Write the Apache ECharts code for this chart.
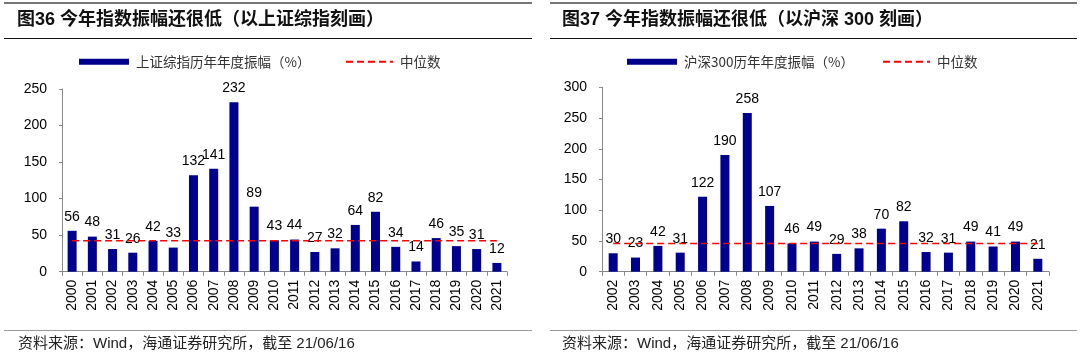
<!DOCTYPE html>
<html>
<head>
<meta charset="utf-8">
<script src="https://cdn.jsdelivr.net/npm/echarts@6/dist/echarts.min.js"></script>
<style>
html,body{margin:0;padding:0;background:#fff;}
#main{width:1080px;height:361px;}
</style>
</head>
<body>
<div id="main"></div>
<script>
// ---- data ----
var yearsSH = ['2000','2001','2002','2003','2004','2005','2006','2007','2008','2009','2010','2011','2012','2013','2014','2015','2016','2017','2018','2019','2020','2021'];
var ampSH = [56,48,31,26,42,33,132,141,232,89,43,44,27,32,64,82,34,14,46,35,31,12];
var medianSH = 42.5;

var yearsHS = ['2002','2003','2004','2005','2006','2007','2008','2009','2010','2011','2012','2013','2014','2015','2016','2017','2018','2019','2020','2021'];
var ampHS = [30,23,42,31,122,190,258,107,46,49,29,38,70,82,32,31,49,41,49,21];
var medianHS = 46;

var ticksSH = {min:0, max:250, interval:50};
var ticksHS = {min:0, max:300, interval:50};

var nameBarSH = '上证综指历年年度振幅（%）';
var nameBarHS = '沪深300历年年度振幅（%）';
var nameMed = '中位数';
var titleSH = '图36 今年指数振幅还很低（以上证综指刻画）';
var titleHS = '图37 今年指数振幅还很低（以沪深 300 刻画）';
var source = '资料来源：Wind，海通证券研究所，截至 21/06/16';

// ---- chart ----
var FONT = '"Liberation Sans", Arial, "Noto Sans CJK SC", sans-serif';
var BAR = '#00008f';
var chart = echarts.init(document.getElementById('main'), null, {renderer:'canvas'});

function xAx(idx, cats){
  return {
    type:'category', gridIndex:idx, data:cats,
    axisLine:{lineStyle:{color:'#888', width:1}},
    axisTick:{show:true, length:4, lineStyle:{color:'#888'}},
    axisLabel:{rotate:90, margin:8, fontSize:14, color:'#000', fontFamily:FONT, interval:0}
  };
}
function yAx(idx, t){
  return {
    type:'value', gridIndex:idx, min:t.min, max:t.max, interval:t.interval,
    axisLine:{show:true, lineStyle:{color:'#888', width:1}},
    axisTick:{show:true, length:3, lineStyle:{color:'#888'}},
    splitLine:{show:false},
    axisLabel:{margin:15, fontSize:14, color:'#000', fontFamily:FONT}
  };
}
function legendFor(item, left, w, h){
  return {
    data:[item], left:left, top:55, padding:0, itemWidth:w, itemHeight:h, itemGap:0,
    textStyle:{fontSize:13.5, color:'#333', fontFamily:'"Noto Sans CJK SC", "Liberation Sans", sans-serif', padding:[0,0,0,2]}
  };
}

var option = {
  backgroundColor:'#fff',
  animation:false,
  textStyle:{fontFamily:FONT},
  legend: [
    legendFor({name:nameBarSH, icon:'rect'}, 79, 50, 6),
    legendFor(nameMed + ' ', 345, 47, 2),
    legendFor({name:nameBarHS, icon:'rect'}, 627, 50, 6),
    legendFor(nameMed, 882, 47, 2)
  ],
  grid:[
    {left:62, top:89, width:445, height:182.7, containLabel:false},
    {left:602, top:87.3, width:447, height:184.4, containLabel:false}
  ],
  xAxis:[xAx(0, yearsSH), xAx(1, yearsHS)],
  yAxis:[yAx(0, ticksSH), yAx(1, ticksHS)],
  series:[
    {name:nameBarSH, type:'bar', xAxisIndex:0, yAxisIndex:0, data:ampSH, barWidth:9,
     itemStyle:{color:BAR},
     label:{show:true, position:'top', distance:7, fontSize:14, color:'#000', fontFamily:FONT}},
    {name:nameMed + ' ', type:'line', xAxisIndex:0, yAxisIndex:0, data:yearsSH.map(function(){return medianSH;}),
     symbol:'none', z:5, lineStyle:{color:'#ff0000', width:1.5, type:[7,4]}, itemStyle:{color:'#ff0000'}},
    {name:nameBarHS, type:'bar', xAxisIndex:1, yAxisIndex:1, data:ampHS, barWidth:9,
     itemStyle:{color:BAR},
     label:{show:true, position:'top', distance:7, fontSize:14, color:'#000', fontFamily:FONT}},
    {name:nameMed, type:'line', xAxisIndex:1, yAxisIndex:1, data:yearsHS.map(function(){return medianHS;}),
     symbol:'none', z:5, lineStyle:{color:'#ff0000', width:1.5, type:[7,4]}, itemStyle:{color:'#ff0000'}}
  ],
  graphic:[
    // top gray rules
    {type:'line', shape:{x1:4, y1:3, x2:532, y2:3}, style:{stroke:'#777', lineWidth:2}},
    {type:'line', shape:{x1:550, y1:3, x2:1077, y2:3}, style:{stroke:'#777', lineWidth:2}},
    // title underlines
    {type:'line', shape:{x1:4, y1:38.5, x2:532, y2:38.5}, style:{stroke:'#111', lineWidth:1.2}},
    {type:'line', shape:{x1:550, y1:38.5, x2:1077, y2:38.5}, style:{stroke:'#111', lineWidth:1.2}},
    // footer rules
    {type:'line', shape:{x1:4, y1:330.5, x2:532, y2:330.5}, style:{stroke:'#999', lineWidth:1}},
    {type:'line', shape:{x1:550, y1:330.5, x2:1077, y2:330.5}, style:{stroke:'#999', lineWidth:1}},
    // titles
    {type:'text', left:17, top:11, style:{text:titleSH, font:'bold 18px "Liberation Sans", "Noto Sans CJK SC", sans-serif', fill:'#111'}},
    {type:'text', left:562, top:11, style:{text:titleHS, font:'bold 18px "Liberation Sans", "Noto Sans CJK SC", sans-serif', fill:'#111'}},
    // sources
    {type:'text', left:18, top:336, style:{text:source, font:'15px "Liberation Sans", "Noto Sans CJK SC", sans-serif', fill:'#222'}},
    {type:'text', left:562, top:336, style:{text:source, font:'15px "Liberation Sans", "Noto Sans CJK SC", sans-serif', fill:'#222'}}
  ]
};
chart.setOption(option);
</script>
</body>
</html>
